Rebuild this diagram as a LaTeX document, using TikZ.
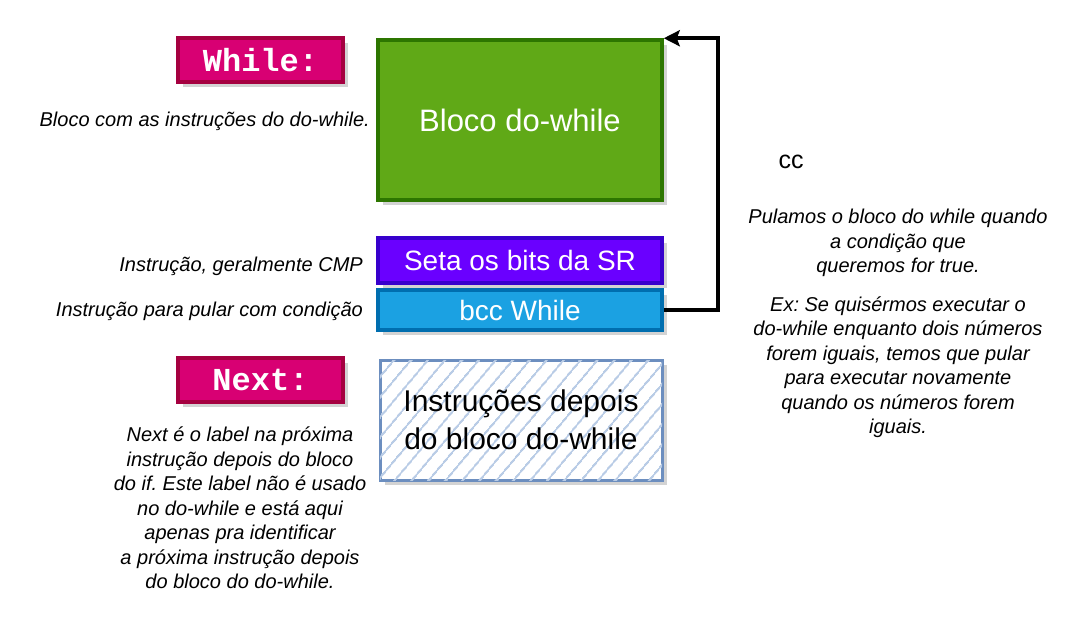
\documentclass[tikz,border=0pt]{standalone}
\usepackage{fontspec}
\setmainfont{Liberation Sans}
\newfontfamily\labelfont{Liberation Mono}
\usetikzlibrary{arrows.meta,shadows,patterns.meta}
\frenchspacing

\definecolor{lblfill}{HTML}{D80073}
\definecolor{lbldraw}{HTML}{A50040}
\definecolor{blkfill}{HTML}{60A917}
\definecolor{blkdraw}{HTML}{2D7600}
\definecolor{srfill}{HTML}{6A00FF}
\definecolor{srdraw}{HTML}{3700CC}
\definecolor{bccfill}{HTML}{1BA1E2}
\definecolor{bccdraw}{HTML}{006EAF}
\definecolor{nxtdraw}{HTML}{6C8EBF}
\definecolor{nxthatch}{HTML}{B9CCE6}

\begin{document}
\begin{tikzpicture}[x=1pt, y=-1pt,
    shade box/.style={drop shadow={opacity=0.35, shadow xshift=5pt, shadow yshift=-5pt}},
    lbl/.style={shade box, draw=lbldraw, fill=lblfill, line width=3.5pt, text=white,
        minimum width=165pt, minimum height=44pt, inner sep=0pt,
        font=\labelfont\bfseries\fontsize{32}{32}\selectfont},
    blk/.style={shade box, line width=3.5pt, text=white, minimum width=284pt,
        inner sep=0pt, font=\fontsize{28}{32}\selectfont},
    note/.style={font=\itshape\fontsize{20}{24.5}\selectfont, inner sep=0pt}]
    \useasboundingbox (0,0) rectangle (1087,627);

    % Labels
    \node[lbl] (whilelbl) at (260.5,60) {While:};
    \node[lbl] (nextlbl) at (260.5,380) {Next:};

    % Blocks
    \node[blk, draw=blkdraw, fill=blkfill, minimum height=160pt,
        font=\fontsize{31}{32}\selectfont] (bloco) at (520,120) {Bloco do-while};
    \node[blk, draw=srdraw, fill=srfill, minimum height=45pt] (seta) at (520,260.5) {Seta os bits da SR};
    \node[blk, draw=bccdraw, fill=bccfill, minimum height=40pt] (bcc) at (520,310) {bcc While};
    \node[blk, draw=nxtdraw, line width=3pt, fill=white, minimum width=282pt, minimum height=120pt,
        postaction={pattern={Lines[angle=50,distance=13pt,line width=2pt]}, pattern color=nxthatch},
        text=black, align=center, font=\fontsize{30}{38}\selectfont] (depois) at (521,420)
        {Instruções depois\\do bloco do-while};

    % Loop back
    \path (bloco.north east) ++(54.25,0) coordinate (turn);
    \draw[line width=4pt, -{Stealth[length=16pt,width=16pt,inset=3pt]}]
        (bcc.east) -| (turn) -- (bloco.north east);

    % Notes
    \node[note, anchor=east] (nbloco) at (370,121) {Bloco com as instruções do do-while.};
    \node[note, anchor=east] (nseta) at (363,266) {Instrução, geralmente CMP};
    \node[note, anchor=east] (nbcc) at (363,311) {Instrução para pular com condição};
    \node[font=\fontsize{25}{25}\selectfont, inner sep=0pt] (cc) at (791,162) {cc};
    \node[note, align=center, anchor=north] (npula) at (898,209)
        {Pulamos o bloco do while quando\\a condição que\\queremos for true.\\[14pt]
         Ex: Se quisérmos executar o\\do-while enquanto dois números\\forem iguais, temos que pular\\
         para executar novamente\\quando os números forem\\iguais.};
    \node[note, align=center, anchor=north] (nnext) at (240,427)
        {Next é o label na próxima\\instrução depois do bloco\\do if. Este label não é usado\\
         no do-while e está aqui\\apenas pra identificar\\a próxima instrução depois\\do bloco do do-while.};
\end{tikzpicture}
\end{document}
